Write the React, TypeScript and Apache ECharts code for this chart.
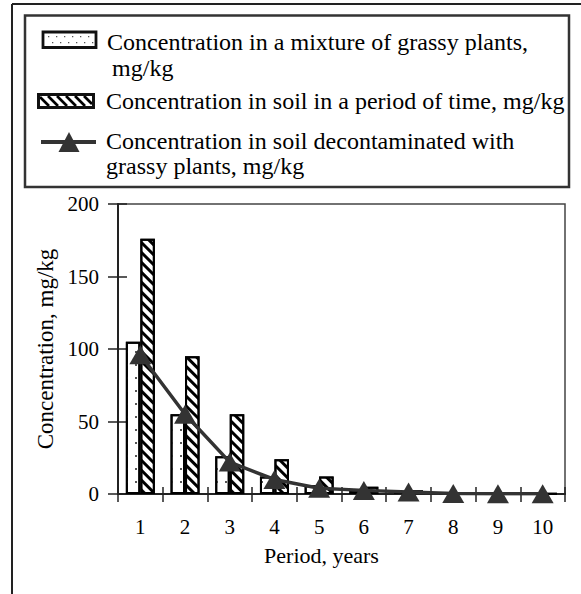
import React, { useEffect, useRef } from "react";
import * as echarts from "echarts";

// ---- data ----
const periods = ["1", "2", "3", "4", "5", "6", "7", "8", "9", "10"];
const plantConc = [105, 55, 26, 12, 6, 3, 1.5, 0.8, 0.4, 0.2];
const soilConc = [176, 95, 55, 24, 12, 5, 2.5, 1.2, 0.6, 0.3];
const decontConc = [96, 55, 22, 10, 4, 2.5, 1.4, 0.3, 0.2, 0.1];
const yMin = 0;
const yMax = 200;
const yStep = 50;

const seriesNames = [
  "Concentration in a mixture of grassy plants, mg/kg",
  "Concentration in soil in a period of time, mg/kg",
  "Concentration in soil decontaminated with grassy plants, mg/kg",
];
const legendLines = [
  ["Concentration in a mixture of grassy plants,", "mg/kg"],
  ["Concentration in soil in a period of time, mg/kg"],
  ["Concentration in soil decontaminated with", "grassy plants, mg/kg"],
];
const xName = "Period, years";
const yName = "Concentration, mg/kg";

const FONT = '"Liberation Serif", "Times New Roman", serif';

function hatchLines(x0: number, y0: number, w: number, h: number, step: number) {
  const out: any[] = [];
  for (let s = x0 - h; s < x0 + w; s += step) {
    let xa = s, ya = y0, xb = s + h, yb = y0 + h;
    if (xa < x0) { ya = y0 + (x0 - xa); xa = x0; }
    if (xb > x0 + w) { yb = yb - (xb - (x0 + w)); xb = x0 + w; }
    if (xb - xa < 1) continue;
    out.push({
      type: "line",
      shape: { x1: xa, y1: ya, x2: xb, y2: yb },
      style: { stroke: "#000", lineWidth: 2.6 },
      silent: true,
    });
  }
  return out;
}

function dots(x0: number, y0: number, w: number, h: number) {
  const out: any[] = [];
  let row = 0;
  for (let y = y0 + 3; y < y0 + h - 1; y += 6) {
    for (let x = x0 + 4 + (row % 2) * 4; x < x0 + w - 1; x += 8) {
      out.push({ type: "rect", shape: { x, y, width: 1.3, height: 1.3 }, style: { fill: "#555" }, silent: true });
    }
    row++;
  }
  return out;
}

export default function App() {
  const ref = useRef<HTMLDivElement>(null);
  useEffect(() => {
    document.body.style.margin = "0";
    if (!ref.current) return;
    const chart = echarts.init(ref.current, null, { renderer: "svg" });
    const textStyle = { fontFamily: FONT, fontSize: 21, color: "#000" };
    const legendFont = { fontFamily: FONT, fontSize: 23, fill: "#000", verticalAlign: "middle" as const };
    const sx = 1.045;

    const graphics: any[] = [
      // outer frame (top + left)
      { type: "line", shape: { x1: 12, y1: 4, x2: 581, y2: 4 }, style: { stroke: "#222", lineWidth: 2 }, silent: true },
      { type: "line", shape: { x1: 12, y1: 4, x2: 12, y2: 594 }, style: { stroke: "#222", lineWidth: 2 }, silent: true },
      // legend box
      { type: "rect", shape: { x: 25, y: 15.5, width: 544, height: 171.5 }, style: { fill: "none", stroke: "#333", lineWidth: 2.5 }, silent: true },
      // item 1 icon
      { type: "rect", shape: { x: 43, y: 32, width: 53, height: 15.5 }, style: { fill: "#fff", stroke: "#111", lineWidth: 2.8 }, silent: true },
      ...dots(44, 33, 51, 13),
      // item 2 icon
      { type: "rect", shape: { x: 38.5, y: 94.5, width: 55, height: 13 }, style: { fill: "#fff", stroke: "#111", lineWidth: 2.8 }, silent: true },
      ...hatchLines(40, 96, 52, 10, 9),
      { type: "rect", shape: { x: 38.5, y: 94.5, width: 55, height: 13 }, style: { fill: "none", stroke: "#111", lineWidth: 2.8 }, silent: true },
      // item 3 icon
      { type: "line", shape: { x1: 41, y1: 142, x2: 96, y2: 142 }, style: { stroke: "#333", lineWidth: 4 }, silent: true },
      { type: "polygon", shape: { points: [[69, 132], [58.5, 152], [79.5, 152]] }, style: { fill: "#333" }, silent: true },
      // legend texts
      { type: "text", x: 107, y: 42, scaleX: sx, style: { ...legendFont, text: legendLines[0][0] }, silent: true },
      { type: "text", x: 112, y: 68, scaleX: sx, style: { ...legendFont, text: legendLines[0][1] }, silent: true },
      { type: "text", x: 106, y: 101, scaleX: sx, style: { ...legendFont, text: legendLines[1][0] }, silent: true },
      { type: "text", x: 106, y: 141, scaleX: sx, style: { ...legendFont, text: legendLines[2][0] }, silent: true },
      { type: "text", x: 106, y: 166, scaleX: sx, style: { ...legendFont, text: legendLines[2][1] }, silent: true },
    ];

    chart.setOption({
      animation: false,
      backgroundColor: "#fff",
      textStyle: { fontFamily: FONT },
      grid: {
        left: 118, right: 16, top: 204, bottom: 100,
        show: true, borderColor: "#444", borderWidth: 1.5, backgroundColor: "transparent",
      },
      xAxis: [
        {
          type: "category",
          data: periods,
          position: "bottom",
          name: xName,
          nameLocation: "middle",
          nameGap: 50,
          nameTextStyle: { ...textStyle, fontSize: 22, padding: [0, 40, 0, 0] },
          axisLine: { lineStyle: { color: "#222", width: 2 } },
          axisTick: { show: true, alignWithLabel: false, length: 8, lineStyle: { color: "#222", width: 1.5 } },
          axisLabel: { ...textStyle, margin: 22 },
        },
        {
          type: "category",
          data: periods,
          position: "bottom",
          axisLine: { show: false },
          axisTick: { show: true, inside: true, alignWithLabel: false, length: 7, lineStyle: { color: "#222", width: 1.5 } },
          axisLabel: { show: false },
        },
      ],
      yAxis: [
        {
          type: "value",
          min: yMin, max: yMax, interval: yStep,
          position: "left",
          name: yName,
          nameLocation: "middle",
          nameRotate: 90,
          nameGap: 60,
          nameTextStyle: { ...textStyle, fontSize: 23 },
          axisLine: { show: true, lineStyle: { color: "#222", width: 2 } },
          axisTick: { show: true, length: 10, lineStyle: { color: "#222", width: 1.5 } },
          axisLabel: { ...textStyle, margin: 19 },
          splitLine: { show: false },
        },
        {
          type: "value",
          min: yMin, max: yMax, interval: yStep,
          position: "left",
          axisLine: { show: false },
          axisTick: { show: true, inside: true, length: 9, lineStyle: { color: "#222", width: 1.5 } },
          axisLabel: { show: false },
          splitLine: { show: false },
        },
      ],
      series: [
        {
          name: seriesNames[0],
          type: "bar",
          data: plantConc,
          barWidth: 14.5,
          barGap: "0%",
          itemStyle: {
            color: "#fff",
            borderColor: "#000",
            borderWidth: 2,
            decal: {
              symbol: "rect",
              symbolSize: 1,
              color: "#555",
              dashArrayX: [1.3, 6.5],
              dashArrayY: [1.3, 11],
              rotation: 0,
            },
          },
        },
        {
          name: seriesNames[1],
          type: "bar",
          data: soilConc,
          barWidth: 14.5,
          barGap: "0%",
          itemStyle: {
            color: "#fff",
            borderColor: "#000",
            borderWidth: 2,
            decal: {
              symbol: "rect",
              symbolSize: 1,
              color: "#000",
              dashArrayX: [1, 0],
              dashArrayY: [2.6, 3.8],
              rotation: Math.PI / 4,
            },
          },
        },
        {
          name: seriesNames[2],
          type: "line",
          data: decontConc,
          symbol: "triangle",
          symbolSize: [22, 19],
          lineStyle: { color: "#333", width: 3.5 },
          itemStyle: { color: "#333" },
          z: 5,
        },
      ],
      graphic: graphics,
    });
    return () => chart.dispose();
  }, []);
  return <div ref={ref} style={{ width: 581, height: 594 }} />;
}
